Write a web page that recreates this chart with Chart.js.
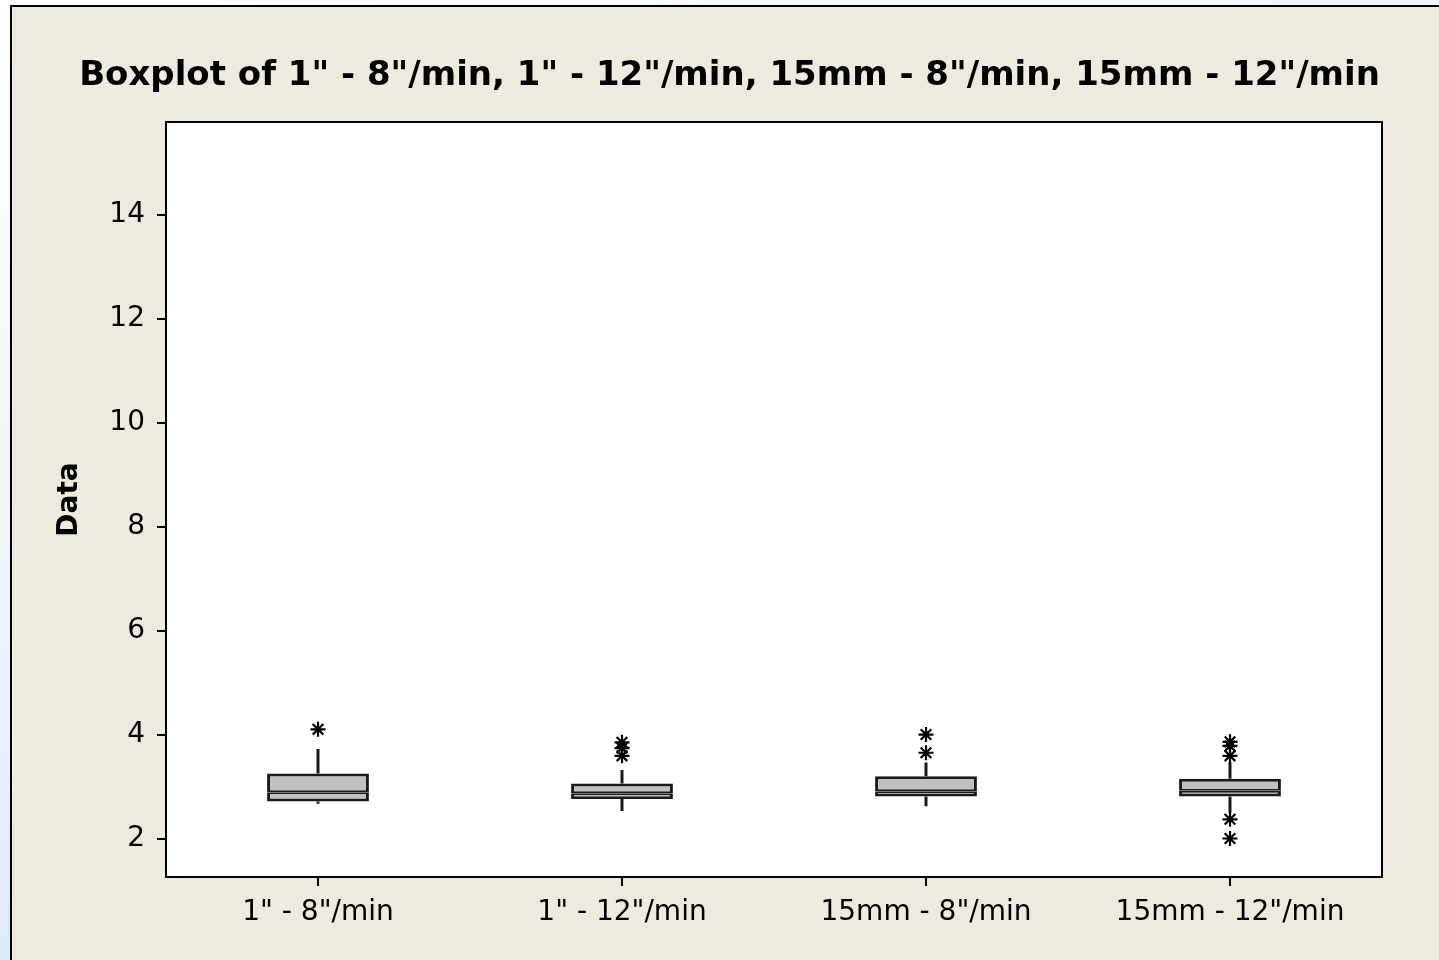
<!DOCTYPE html>
<html>
<head>
<meta charset="utf-8">
<script src="https://cdn.jsdelivr.net/npm/chart.js@4/dist/chart.umd.min.js"></script>
<style>
  body { margin: 0; width: 1439px; height: 960px; overflow: hidden;
         background: linear-gradient(160deg, #ffffff 0%, #e4eef8 60%, #9cc3e8 100%); }
  #panel { position: absolute; left: 10px; top: 5px; width: 1429px; height: 955px;
           border-left: 2px solid #000; border-top: 2px solid #000; background: #eeeae0; }
  #boxChart { position: absolute; left: 0; top: 0; }
</style>
</head>
<body>
<div id="panel">
  <canvas id="boxChart" width="1427" height="953"></canvas>
</div>
<script>
// categories and box statistics
const categories = ['1" - 8"/min', '1" - 12"/min', '15mm - 8"/min', '15mm - 12"/min'];
const q1 = [2.72, 2.77, 2.82, 2.82];
const median = [2.90, 2.88, 2.92, 2.93];
const q3 = [3.26, 3.07, 3.21, 3.16];
const whiskerLow = [2.68, 2.54, 2.63, 2.51];
const whiskerHigh = [3.73, 3.33, 3.47, 3.47];
const outliers = [
  [4.11],
  [3.86, 3.75, 3.60],
  [4.01, 3.66],
  [3.87, 3.79, 3.60, 2.38, 2.01]
];
const yTicks = [2, 4, 6, 8, 10, 12, 14];

const fontName = "'DejaVu Sans', Verdana, sans-serif";

// whisker segments, broken up with null points
const whiskerData = [];
categories.forEach((c, i) => {
  whiskerData.push({ x: c, y: q3[i] }, { x: c, y: whiskerHigh[i] }, { x: c, y: null });
  whiskerData.push({ x: c, y: q1[i] }, { x: c, y: whiskerLow[i] }, { x: c, y: null });
});

const outlierData = [];
categories.forEach((c, i) => {
  outliers[i].forEach(v => outlierData.push({ x: c, y: v }));
});

// white plot area and black frame around it
const plotFrame = {
  id: 'plotFrame',
  beforeDatasetsDraw(chart) {
    const { ctx, chartArea: a } = chart;
    ctx.save();
    ctx.fillStyle = '#fff';
    ctx.fillRect(a.left, a.top, a.right - a.left, a.bottom - a.top);
    ctx.restore();
  },
  afterDatasetsDraw(chart) {
    const { ctx, chartArea: a } = chart;
    ctx.save();
    ctx.strokeStyle = '#000';
    ctx.lineWidth = 2;
    ctx.strokeRect(a.left, a.top, a.right - a.left, a.bottom - a.top);
    ctx.restore();
  }
};

const boxStyle = {
  backgroundColor: '#c0c0c0',
  borderColor: '#1a1a1a',
  borderSkipped: false,
  grouped: false,
  barPercentage: 0.335,
  categoryPercentage: 1
};

new Chart(document.getElementById('boxChart'), {
  type: 'bar',
  data: {
    labels: categories,
    datasets: [
      Object.assign({ label: 'lower box', order: 2,
        data: q1.map((v, i) => [v, median[i]]),
        borderWidth: { top: 2, bottom: 3, left: 3, right: 3 } }, boxStyle),
      Object.assign({ label: 'upper box', order: 2,
        data: median.map((v, i) => [v, q3[i]]),
        borderWidth: { top: 3, bottom: 2, left: 3, right: 3 } }, boxStyle),
      {
        type: 'line', label: 'whiskers', order: 3,
        data: whiskerData,
        borderColor: '#1a1a1a', borderWidth: 3,
        pointRadius: 0, spanGaps: false
      },
      {
        type: 'line', label: 'outliers', order: 1,
        data: outlierData,
        showLine: false,
        pointStyle: 'star', pointRadius: 7.5,
        borderColor: '#000', borderWidth: 2.2,
        backgroundColor: '#000'
      }
    ]
  },
  options: {
    responsive: false,
    animation: false,
    layout: { padding: { left: 8, right: 0, top: 0, bottom: 0 } },
    plugins: {
      legend: { display: false },
      tooltip: { enabled: false },
      title: {
        display: true,
        text: 'Boxplot of 1" - 8"/min, 1" - 12"/min, 15mm - 8"/min, 15mm - 12"/min',
        color: '#000',
        font: { family: fontName, size: 34, weight: 'bold', lineHeight: 1.2 },
        padding: { top: 48.6, bottom: 25.6 }
      }
    },
    scales: {
      x: {
        type: 'category',
        grid: { drawOnChartArea: false, offset: false, color: '#000', lineWidth: 2, tickLength: 9 },
        border: { display: false },
        ticks: { color: '#000', padding: 10, font: { family: fontName, size: 28 } },
        afterFit: s => { s.height = 83; }
      },
      y: {
        min: 1.27,
        max: 15.79,
        afterBuildTicks: s => { s.ticks = yTicks.map(v => ({ value: v })); },
        grid: { drawOnChartArea: false, color: '#000', lineWidth: 2, tickLength: 9 },
        border: { display: false },
        ticks: { color: '#000', padding: 12, font: { family: fontName, size: 28 } },
        title: {
          display: true, text: 'Data', color: '#000',
          font: { family: fontName, size: 28, weight: 'bold', lineHeight: 1.2 },
          padding: { top: 33.2, bottom: 0 }
        },
        afterFit: s => { s.width = 146; }
      },
      y2: {
        position: 'right',
        grid: { display: false },
        border: { display: false },
        ticks: { display: false },
        afterFit: s => { s.width = 57; }
      }
    }
  },
  plugins: [plotFrame]
});
</script>
</body>
</html>
